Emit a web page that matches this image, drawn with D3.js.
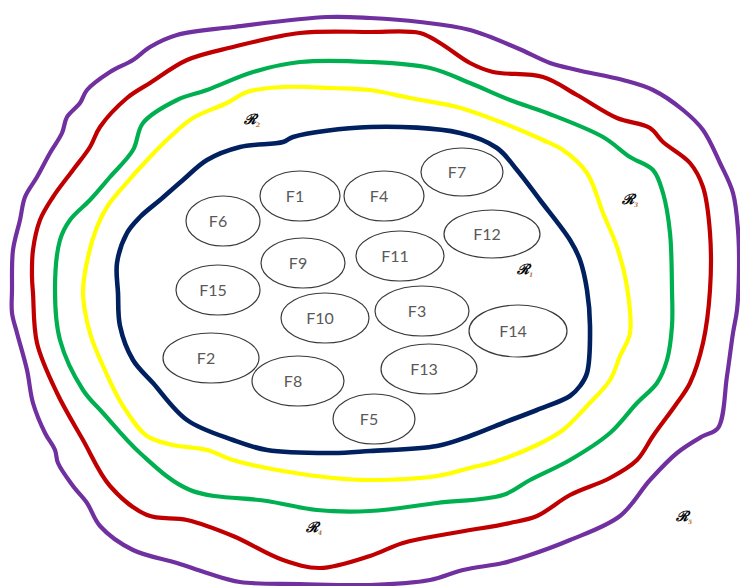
<!DOCTYPE html>
<html>
<head>
<meta charset="utf-8">
<script src="https://cdn.jsdelivr.net/npm/d3@7"></script>
<style>
	html, body { margin: 0; padding: 0; background: #fff; }
	svg { display: block; }
</style>
</head>
<body>
<div id="main-container"></div>
<script>

// boundary curves, outermost first (drawing units)
var purpleRing = [[370,18],[420,22],[470,30],[517,48],[550,63],[577,70],[623,80],[653,90],[683,110],[703,130],[720,163],[733,193],[738,230],[739,270],[737,310],[733,333],[727,376],[718,428],[703,436],[677,453],[650,480],[620,516],[570,540],[527,556],[503,563],[463,570],[430,580],[370,585],[300,584],[240,582],[207,573],[177,563],[133,550],[100,526],[87,503],[73,486],[58,463],[55,450],[45,433],[33,403],[27,370],[17,333],[12,313],[12,290],[13,250],[20,220],[25,197],[37,177],[50,153],[62,133],[67,117],[80,103],[87,90],[110,72],[133,60],[150,47],[177,35],[233,27],[327,17]];
var redRing = [[370,32],[420,33],[440,43],[470,63],[493,72],[543,77],[577,95],[617,118],[650,128],[663,142],[690,163],[703,187],[710,233],[710,290],[703,343],[690,383],[677,403],[653,436],[637,460],[610,478],[570,495],[537,516],[510,523],[453,533],[403,543],[370,556],[320,568],[283,560],[233,536],[187,520],[147,515],[110,486],[83,440],[57,393],[37,343],[33,293],[32,277],[33,250],[40,220],[53,197],[73,170],[90,147],[100,127],[127,98],[150,83],[187,60],[233,47],[300,33]];
var greenRing = [[370,62],[430,68],[470,83],[510,100],[547,113],[603,137],[630,157],[653,170],[663,193],[670,233],[672,290],[672,326],[667,360],[657,383],[637,403],[610,433],[570,460],[530,480],[503,495],[437,503],[370,511],[317,510],[267,501],[190,490],[140,453],[103,413],[83,390],[60,340],[55,290],[60,240],[70,220],[90,200],[110,177],[133,150],[143,123],[177,100],[207,90],[253,72],[300,62]];
var yellowRing = [[370,90],[410,98],[457,107],[503,123],[543,140],[563,150],[587,173],[603,213],[617,247],[627,287],[630,333],[620,356],[610,380],[587,406],[563,430],[537,445],[497,461],[470,468],[437,476],[370,480],[333,478],[277,470],[233,460],[207,450],[173,445],[147,436],[123,406],[103,366],[90,333],[83,293],[88,257],[97,227],[107,207],[123,187],[150,157],[170,137],[193,118],[227,103],[247,92],[283,87],[333,88]];
var navyRing = [[370,127],[460,133],[497,148],[517,170],[540,200],[570,240],[580,260],[587,290],[590,326],[587,373],[580,386],[570,396],[537,410],[503,423],[470,436],[437,446],[370,451],[333,453],[267,450],[233,440],[187,420],[153,383],[133,360],[120,326],[118,293],[117,263],[127,233],[140,217],[160,200],[183,180],[207,160],[240,147],[283,142],[293,137]];

var rings = [purpleRing, redRing, greenRing, yellowRing, navyRing];
var ringColors = ["#7030A0", "#C00000", "#00B050", "#FFFF00", "#002060"];

// the F nodes
var nodeNames = ["F1","F2","F3","F4","F5","F6","F7","F8","F9","F10","F11","F12","F13","F14","F15"];
var nodeX  = [300, 211, 422, 384, 374, 223, 462, 298, 303, 325, 400, 492, 429, 518, 218];
var nodeY  = [196, 358, 311, 196, 419, 221, 172, 381, 263, 318, 256, 234, 369, 331, 290];
var nodeRx = [40, 48, 47, 40, 41, 37, 41, 46, 42, 44, 44, 48, 48, 49, 42];
var nodeRy = [25, 25, 25, 25, 25, 25, 24, 25, 25, 25, 25, 24, 25, 26, 25];

// region labels
var regionNames = ["1", "2", "3", "4", "5"];
var regionX = [517, 244, 622, 306, 676];
var regionY = [274, 124, 204, 532, 521];


function drawDiagram() {
	var width = 740, height = 586;

	var x = d3.scaleLinear().domain([0, 740]).range([0, width]);
	var y = d3.scaleLinear().domain([0, 586]).range([0, height]);

	var svg = d3.select("#main-container")
		.append("svg")
		.attr("width", width)
		.attr("height", height);

	svg.append("rect")
		.attr("width", width)
		.attr("height", height)
		.attr("fill", "#fff");

	var line = d3.line()
		.x(function(d) { return x(d[0]); })
		.y(function(d) { return y(d[1]); })
		.curve(d3.curveCatmullRomClosed.alpha(0.5));

	svg.selectAll("path.ring")
		.data(rings)
		.enter()
		.append("path")
		.attr("class", "ring")
		.attr("d", line)
		.attr("fill", "none")
		.attr("stroke", function(d, i) { return ringColors[i]; })
		.attr("stroke-width", function(d, i) { return i == 4 ? 4.6 : 4.2; })
		.attr("stroke-linejoin", "round");

	var nodes = svg.selectAll("g.node")
		.data(nodeNames)
		.enter()
		.append("g")
		.attr("class", "node");

	nodes.append("ellipse")
		.attr("cx", function(d, i) { return x(nodeX[i]); })
		.attr("cy", function(d, i) { return y(nodeY[i]); })
		.attr("rx", function(d, i) { return x(nodeRx[i]) - x(0); })
		.attr("ry", function(d, i) { return y(nodeRy[i]) - y(0); })
		.attr("fill", "none")
		.attr("stroke", "#3a3a3a")
		.attr("stroke-width", 1.2);

	nodes.append("text")
		.attr("x", function(d, i) { return x(nodeX[i]) - 5; })
		.attr("y", function(d, i) { return y(nodeY[i]) + 6; })
		.attr("text-anchor", "middle")
		.attr("font-family", "Lato, 'Open Sans', sans-serif")
		.attr("font-size", 16)
		.attr("fill", "#595959")
		.text(function(d) { return d; });

	var regions = svg.selectAll("text.region")
		.data(regionNames)
		.enter()
		.append("text")
		.attr("class", "region")
		.attr("x", function(d, i) { return x(regionX[i]); })
		.attr("y", function(d, i) { return y(regionY[i]); })
		.attr("font-family", "'DejaVu Serif', serif")
		.attr("font-style", "italic")
		.attr("font-weight", "bold")
		.attr("font-size", 14)
		.attr("fill", "#000");

	regions.append("tspan").text("\u211B");
	regions.append("tspan")
		.attr("dy", 3)
		.attr("font-size", 6)
		.attr("fill", "#c07030")
		.text(function(d) { return d; });
}

drawDiagram();
</script>
</body>
</html>
